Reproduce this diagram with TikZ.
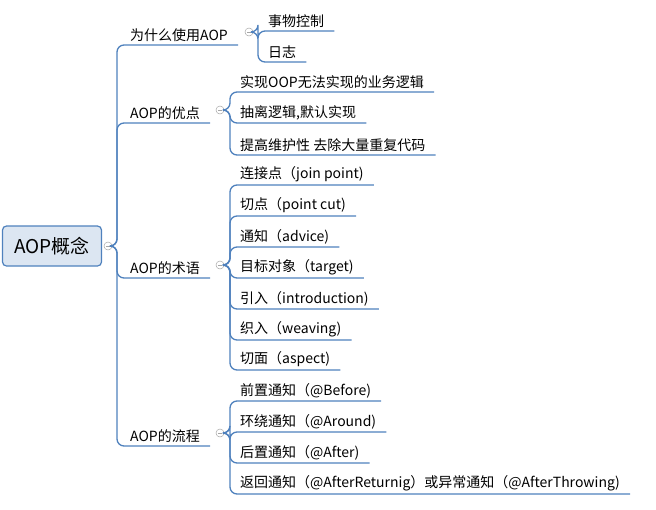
\documentclass[tikz,border=0pt]{standalone}
\usepackage{fontspec}
\setmainfont{Noto Sans CJK SC}
\usetikzlibrary{positioning}
\definecolor{mapblue}{HTML}{4F81BD}
\definecolor{rootfill}{HTML}{DCE6F2}
\tikzset{
  topic/.style={anchor=south west,inner xsep=10pt,inner ysep=3pt,font=\fontsize{14}{16}\selectfont},
  link/.style={draw=mapblue,line width=1.3pt,rounded corners=7pt},
  fold/.style={circle,draw=gray!70,line width=0.5pt,minimum size=8pt,inner sep=0pt,
    path picture={\draw[gray!70,line width=0.5pt] ([xshift=-2pt]path picture bounding box.center) -- ([xshift=2pt]path picture bounding box.center);}}
}
\begin{document}
\begin{tikzpicture}[x=1pt,y=-1pt]
 \useasboundingbox (0,0) rectangle (656,509);
 % root
 \node[draw=mapblue,fill=rootfill,rounded corners=4pt,line width=1.2pt,minimum width=99pt,minimum height=40pt,font=\fontsize{19}{22}\selectfont] (root) at (52,246) {AOP概念};
 \node[fold] (rc) at (108,246) {};
 % branches
 \node[topic] (why) at (120,45) {为什么使用AOP};
 \node[topic] (adv) at (120,123) {AOP的优点};
 \node[topic] (term) at (120,278) {AOP的术语};
 \node[topic] (flow) at (120,446) {AOP的流程};
 \node[fold] (whyc) at (249,32) {};
 \node[fold] (advc) at (220,110) {};
 \node[fold] (termc) at (220,265) {};
 \node[fold] (flowc) at (220,433) {};
 \foreach \b in {why,adv,term,flow}
  \draw[link] (rc.east) -| ([xshift=-3pt]\b.south west) -- (\b.south east);
 % leaves
 \node[topic] (tx) at (258,31) {事物控制};
 \node[topic] (log) at (258,62) {日志};
 \node[topic] (a1) at (230,92) {实现OOP无法实现的业务逻辑};
 \node[topic] (a2) at (230,123) {抽离逻辑,默认实现};
 \node[topic] (a3) at (230,155) {提高维护性 去除大量重复代码};
 \node[topic] (t1) at (230,185) {连接点（join point)};
 \node[topic] (t2) at (230,216) {切点（point cut)};
 \node[topic] (t3) at (230,247) {通知（advice)};
 \node[topic] (t4) at (230,278) {目标对象（target)};
 \node[topic] (t5) at (230,309) {引入（introduction)};
 \node[topic] (t6) at (230,340) {织入（weaving)};
 \node[topic] (t7) at (230,370) {切面（aspect)};
 \node[topic] (f1) at (230,401) {前置通知（@Before)};
 \node[topic] (f2) at (230,432) {环绕通知（@Around)};
 \node[topic] (f3) at (230,463) {后置通知（@After)};
 \node[topic] (f4) at (230,494) {返回通知（@AfterReturnig）或异常通知（@AfterThrowing)};
 \foreach \l in {tx,log}
  \draw[link] (whyc.east) -| (\l.south west) -- (\l.south east);
 \foreach \l in {a1,a2,a3}
  \draw[link] (advc.east) -| (\l.south west) -- (\l.south east);
 \foreach \l in {t1,t2,t3,t4,t5,t6,t7}
  \draw[link] (termc.east) -| (\l.south west) -- (\l.south east);
 \foreach \l in {f1,f2,f3,f4}
  \draw[link] (flowc.east) -| (\l.south west) -- (\l.south east);
\end{tikzpicture}
\end{document}
